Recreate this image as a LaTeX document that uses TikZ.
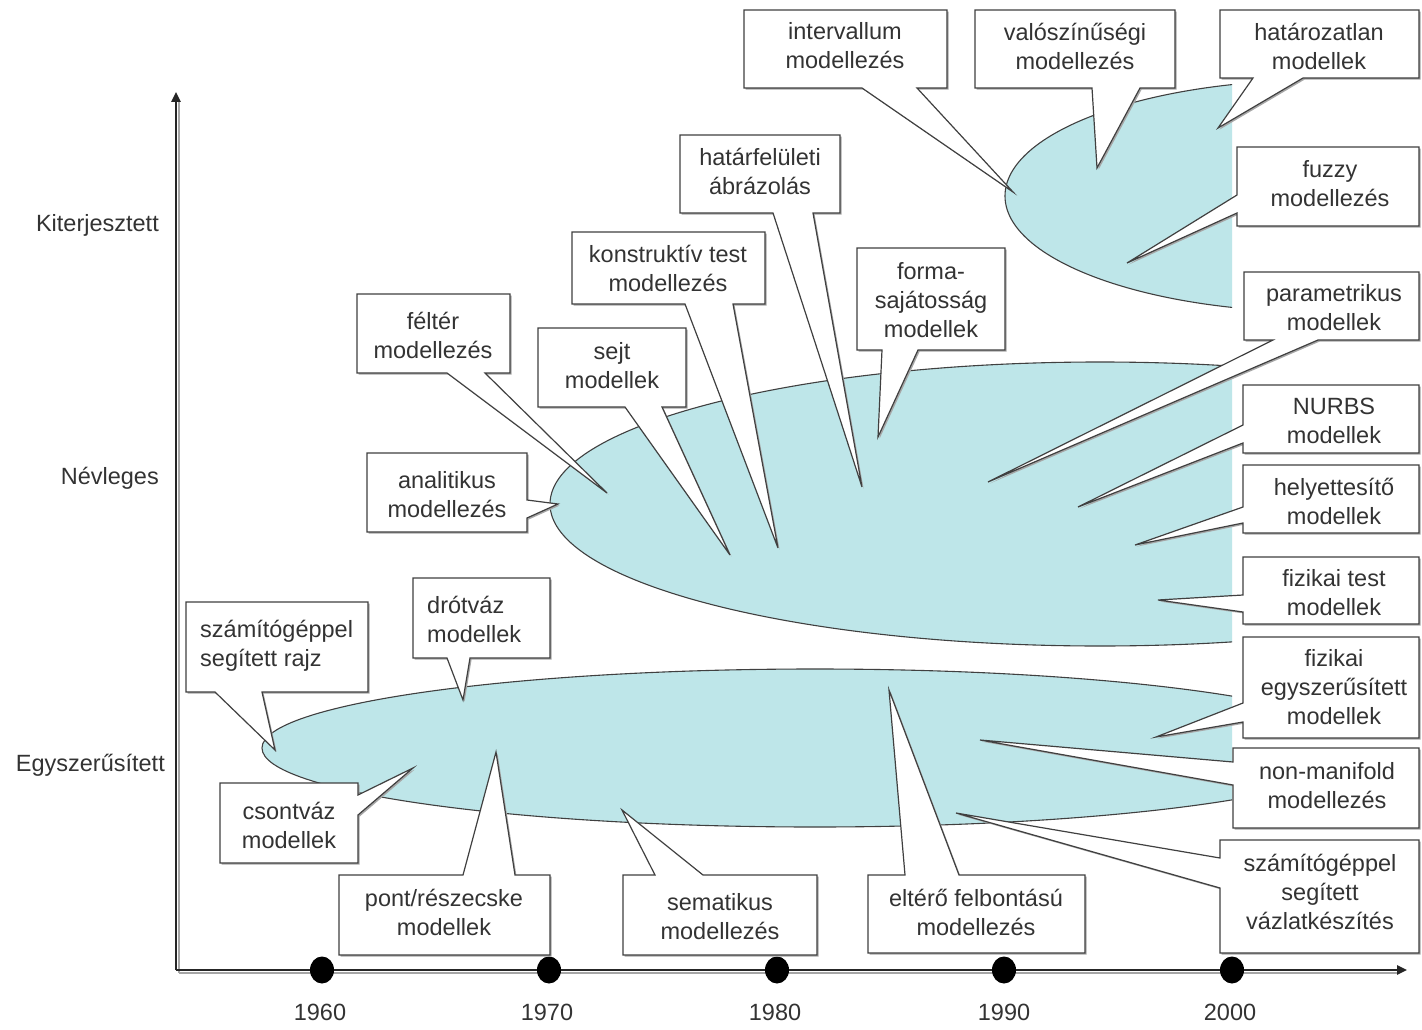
\documentclass[tikz,border=0pt]{standalone}
\usepackage{fontspec}
\setmainfont{Liberation Sans}
\usetikzlibrary{arrows.meta,shadows}
\definecolor{cyanfill}{HTML}{BEE6E9}
\definecolor{edge}{HTML}{404040}
\definecolor{txt}{HTML}{333333}
\tikzset{
  callout/.style={draw=edge, line width=1.2pt, fill=white, line join=miter,
    drop shadow={shadow xshift=1.6pt, shadow yshift=-1.6pt, fill=black!35, opacity=1}},
  lbl/.style={font=\fontsize{23.5}{29}\selectfont, text=txt, align=center, inner sep=0pt},
  lbll/.style={lbl, align=left, anchor=west},
  blob/.style={fill=cyanfill, draw=edge, line width=1.1pt},
  axisline/.style={draw=black!85, line width=2.4pt},
  axshadow/.style={draw=black!35, line width=2pt},
  tick/.style={fill=black},
  yr/.style={font=\fontsize{23.5}{29}\selectfont, text=txt, inner sep=0pt}
}
% callout with wedge on bottom: x1,y1,x2,y2,b1,b2,tip
\newcommand\cobot[7]{\draw[callout] (#1,#2) -- (#3,#2) -- (#3,#4) -- (#6,#4) -- (#7) -- (#5,#4) -- (#1,#4) -- cycle;}
% wedge on top
\newcommand\cotop[7]{\draw[callout] (#1,#2) -- (#5,#2) -- (#7) -- (#6,#2) -- (#3,#2) -- (#3,#4) -- (#1,#4) -- cycle;}
% wedge on left: b1 upper y, b2 lower y
\newcommand\coleft[7]{\draw[callout] (#1,#2) -- (#3,#2) -- (#3,#4) -- (#1,#4) -- (#1,#6) -- (#7) -- (#1,#5) -- cycle;}
% wedge on right
\newcommand\coright[7]{\draw[callout] (#1,#2) -- (#3,#2) -- (#3,#5) -- (#7) -- (#3,#6) -- (#3,#4) -- (#1,#4) -- cycle;}
\begin{document}
\begin{tikzpicture}[x=1pt,y=-1pt]
\useasboundingbox (0,0) rectangle (1422,1030);
\fill[white] (0,0) rectangle (1422,1030);

% blobs
\begin{scope}
\clip (0,0) rectangle (1232,1030);
\draw[blob] (1320,196) ellipse [x radius=315pt, y radius=116pt];
\draw[blob] (1100,504) ellipse [x radius=550pt, y radius=142pt];
\draw[blob] (815,748) ellipse [x radius=553pt, y radius=79pt];
\end{scope}

% axes
\coordinate (o) at (176,970);
\coordinate (ytop) at (176,92);
\coordinate (xend) at (1407,970);
\draw[axshadow] (178.5,972.5) -- (178.5,100);
\draw[axshadow] (178.5,972.5) -- (1398,972.5);
\draw[axisline, -{Triangle[length=10pt,width=9pt]}] (o) -- (ytop);
\draw[axisline, -{Triangle[length=10pt,width=9pt]}] (o) -- (xend);

\foreach \x/\n/\lx in {322/1960/320, 549/1970/547, 777/1980/775, 1004/1990/1004, 1232/2000/1230}{
  \fill[tick] (\x,970) ellipse [x radius=12pt, y radius=13.5pt];
  \node[yr] (y\n) at (\lx,1012) {\n};
}

\node[lbl, anchor=east] (kit) at (159,225) {Kiterjesztett};
\node[lbl, anchor=east] (nev) at (159,478) {Névleges};
\node[lbl, anchor=east] (egy) at (165,765) {Egyszerűsített};

% callouts
\cobot{744}{10}{947}{88}{862}{917}{1013,192}
\node[lbl] (interv) at (845,46) {intervallum\\modellezés};

\cobot{975}{10}{1175}{88}{1092}{1140}{1097,168}
\node[lbl] (valosz) at (1075,46) {valószínűségi\\modellezés};

\cobot{1220}{10}{1419}{78}{1253}{1303}{1218,128}
\node[lbl] (hataroz) at (1319,46) {határozatlan\\modellek};

\coleft{1237}{147}{1419}{226}{195}{213}{1127,263}
\node[lbl] (fuzzy) at (1330,184) {fuzzy\\modellezés};

\cobot{1244}{272}{1419}{340}{1273}{1318}{988,482}
\node[lbl] (param) at (1334,308) {parametrikus\\modellek};

\coleft{1243}{385}{1419}{453}{425}{443}{1078,507}
\node[lbl] (nurbs) at (1334,421) {NURBS\\modellek};

\coleft{1243}{465}{1419}{533}{507}{523}{1135,545}
\node[lbl] (helyet) at (1334,501) {helyettesítő\\modellek};

\coleft{1243}{557}{1419}{624}{595}{612}{1158,600}
\node[lbl] (fiztest) at (1334,593) {fizikai test\\modellek};

\coleft{1243}{637}{1419}{738}{703}{722}{1156,737}
\node[lbl] (fizegy) at (1334,687) {fizikai\\egyszerűsített\\modellek};

\coleft{1233}{748}{1419}{828}{762}{785}{980,740}
\node[lbl] (nonman) at (1327,786) {non-manifold\\modellezés};

\coleft{1220}{840}{1419}{953}{858}{888}{956,813}
\node[lbl] (vazlat) at (1320,892) {számítógéppel\\segített\\vázlatkészítés};

\cotop{868}{875}{1085}{953}{905}{959}{889,690}
\node[lbl] (elter) at (976,912) {eltérő felbontású\\modellezés};

\cotop{623}{875}{817}{955}{655}{703}{622,810}
\node[lbl] (semat) at (720,917) {sematikus\\modellezés};

\cotop{339}{875}{550}{955}{463}{515}{496,752}
\node[lbl] (pont) at (444,912) {pont/részecske\\modellek};

\coright{220}{783}{358}{863}{795}{815}{413,768}
\node[lbl] (csont) at (289,825) {csontváz\\modellek};

\cobot{186}{602}{368}{692}{215}{262}{275,750}
\node[lbll] (rajz) at (200,646) {számítógéppel\\segített rajz};

\cobot{413}{578}{550}{658}{447}{470}{463,700}
\node[lbll] (drot) at (427,619) {drótváz\\modellek};

\coright{367}{453}{527}{532}{500}{518}{558,504}
\node[lbl] (anal) at (447,495) {analitikus\\modellezés};

\cobot{357}{294}{510}{373}{447}{485}{607,493}
\node[lbl] (felter) at (433,335) {féltér\\modellezés};

\cobot{538}{328}{686}{407}{625}{662}{730,555}
\node[lbl] (sejt) at (612,366) {sejt\\modellek};

\cobot{572}{232}{765}{304}{685}{733}{778,548}
\node[lbl] (konstr) at (668,268) {konstruktív test\\modellezés};

\cobot{680}{135}{840}{213}{773}{813}{862,487}
\node[lbl] (hatarf) at (760,171) {határfelületi\\ábrázolás};

\cobot{857}{248}{1005}{350}{882}{918}{878,437}
\node[lbl] (forma) at (931,300) {forma-\\sajátosság\\modellek};

\end{tikzpicture}
\end{document}
